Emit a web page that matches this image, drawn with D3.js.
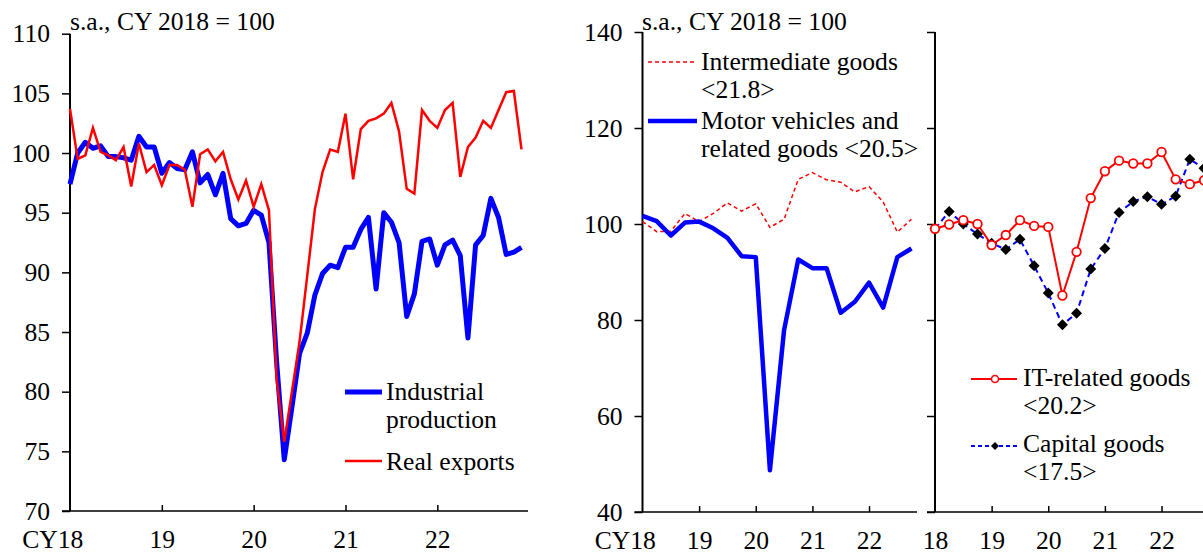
<!DOCTYPE html>
<html>
<head>
<meta charset="utf-8">
<script src="https://cdn.jsdelivr.net/npm/d3@7"></script>
<style>
  body { margin: 0; overflow: hidden; background: #fff; }
  svg { display: block; }
  svg text { font-family: "Liberation Serif", "Times New Roman", serif; }
</style>
</head>
<body>
<div id="chart"></div>
<script>
// monthly, Jan 2018 - Dec 2022
const industrialProduction = [
  97.4, 100.0, 100.9, 100.4, 100.6, 99.7, 99.7, 99.6, 99.4, 101.4, 100.5, 100.5,
  98.3, 99.2, 98.7, 98.6, 100.1, 97.5, 98.2, 96.5, 98.3, 94.5, 93.9, 94.1,
  95.2, 94.8, 92.5, 82.5, 74.3, 78.7, 83.2, 84.9, 88.1, 89.9, 90.6, 90.4,
  92.1, 92.1, 93.6, 94.6, 88.6, 95.0, 94.2, 92.5, 86.3, 88.2, 92.6, 92.8,
  90.6, 92.3, 92.7, 91.4, 84.5, 92.3, 93.1, 96.2, 94.6, 91.5, 91.7, 92.1
]
const realExports = [
  103.7, 99.5, 99.8, 102.1, 100.1, 99.8, 99.4, 100.5, 97.2, 100.8, 98.4, 99.0,
  97.3, 99.0, 99.0, 98.6, 95.5, 99.9, 100.3, 99.3, 100.1, 97.8, 96.1, 97.7,
  95.5, 97.4, 95.2, 81.0, 75.8, 80.0, 84.2, 89.7, 95.3, 98.4, 100.3, 100.1,
  103.3, 97.8, 102.0, 102.7, 102.9, 103.3, 104.2, 101.8, 97.0, 96.6, 103.6, 102.7,
  102.1, 103.6, 104.2, 98.0, 100.5, 101.3, 102.7, 102.1, 103.6, 105.1, 105.2, 100.3
]

// quarterly, 2018Q1 - 2022Q4
const intermediateGoods = [100.5, 98.4, 98.5, 102.2, 100.5, 102.2, 104.4, 102.7, 104.2, 99.3,
  101.0, 109.3, 110.7, 109.2, 108.7, 106.7, 107.8, 104.6, 98.3, 101.0]
const motorVehicles = [101.7, 100.6, 97.6, 100.3, 100.5, 99.1, 97.1, 93.3, 93.1, 48.7,
  77.9, 92.6, 90.8, 90.8, 81.5, 83.8, 87.8, 82.6, 93.1, 94.9]
const itRelated = [99.0, 99.9, 100.8, 100.0, 95.6, 97.7, 100.8, 99.6, 99.4, 85.1,
  94.2, 105.4, 111.0, 113.2, 112.6, 112.6, 115.0, 109.3, 108.3, 109.1]
const capitalGoods = [99.0, 102.6, 100.0, 97.9, 96.0, 94.7, 96.8, 91.3, 85.6, 79.0,
  81.4, 90.6, 94.9, 102.4, 104.7, 105.7, 104.1, 105.8, 113.5, 111.6]

const yearLabelsLeft = ["CY18", "19", "20", "21", "22"]
const yearLabelsRight = ["18", "19", "20", "21", "22"]
const leftTicks = [70, 75, 80, 85, 90, 95, 100, 105, 110]
const midTicks = [40, 60, 80, 100, 120, 140]
const subtitle = "s.a., CY 2018 = 100"

const width = 1203
const height = 554
const fontSize = 25.6
const serif = '"Liberation Serif", "Times New Roman", serif'

const svg = d3.select("#chart")
    .append("svg")
    .attr("width", width)
    .attr("height", height)

// scales
const xLeft = d3.scaleLinear().domain([0, industrialProduction.length - 1]).range([70, 521.5])
const yLeft = d3.scaleLinear().domain([70, 110]).range([511, 33.7])
const xMid = d3.scaleLinear().domain([0, motorVehicles.length - 1]).range([642.5, 911.5])
const xRight = d3.scaleLinear().domain([0, itRelated.length - 1]).range([935, 1204])
const yMid = d3.scaleLinear().domain([40, 140]).range([512, 32])

// y axis + x axis of one panel
function drawAxes(xs, ys, yTicks, showYLabels, xLabels, perYear, xEnd, cyLabel) {
    const x0 = xs.range()[0]
    const yAxis = d3.axisLeft(ys).tickValues(yTicks).tickSize(8).tickSizeOuter(0).tickPadding(12)
    const gy = svg.append("g").attr("transform", `translate(${x0},0)`).call(yAxis)
    gy.select(".domain").remove()
    gy.selectAll(".tick line").attr("stroke", "#000").attr("stroke-width", 1.5)
    gy.selectAll("text").attr("fill", "#000")
        .style("font-family", serif).style("font-size", fontSize + "px")
    if (!showYLabels) gy.selectAll("text").remove()

    svg.append("line").attr("x1", x0).attr("x2", x0)
        .attr("y1", ys.range()[1]).attr("y2", ys.range()[0])
        .attr("stroke", "#000").attr("stroke-width", 2)
    svg.append("line").attr("x1", x0 - 8).attr("x2", xEnd)
        .attr("y1", ys.range()[0]).attr("y2", ys.range()[0])
        .attr("stroke", "#000").attr("stroke-width", 1.5)

    const tickIdx = xLabels.map((d, i) => i * perYear)
    const xAxis = d3.axisBottom(xs).tickValues(tickIdx).tickSize(-6).tickPadding(19)
        .tickFormat((d, i) => xLabels[i])
    const gx = svg.append("g").attr("transform", `translate(0,${ys.range()[0]})`).call(xAxis)
    gx.select(".domain").remove()
    gx.selectAll(".tick line").attr("stroke", "#000").attr("stroke-width", 1.5)
    gx.selectAll(".tick").filter((d, i) => i === 0).select("line").remove()
    gx.selectAll("text").attr("fill", "#000")
        .style("font-family", serif).style("font-size", fontSize + "px")
    // "CY18": keep the "18" centred on the tick
    if (cyLabel) gx.selectAll("text").filter(d => d === 0)
        .attr("text-anchor", "end").attr("x", 12.8)
}

drawAxes(xLeft, yLeft, leftTicks, true, yearLabelsLeft, 12, 528, true)
drawAxes(xMid, yMid, midTicks, true, yearLabelsLeft, 4, 917, true)
drawAxes(xRight, yMid, midTicks, false, yearLabelsRight, 4, 1210, false)

function addText(x, y, s) {
    return svg.append("text").attr("x", x).attr("y", y)
        .style("font-family", serif).style("font-size", fontSize + "px").text(s)
}

// subtitles
addText(70, 30, subtitle)
addText(642, 30, subtitle)

const lineL = d3.line().x((d, i) => xLeft(i)).y(d => yLeft(d))
const lineM = d3.line().x((d, i) => xMid(i)).y(d => yMid(d))
const lineR = d3.line().x((d, i) => xRight(i)).y(d => yMid(d))

// left panel
svg.append("path").datum(industrialProduction).attr("d", lineL)
    .attr("fill", "none").attr("stroke", "#0000ff").attr("stroke-width", 5).attr("stroke-linejoin", "round")
svg.append("path").datum(realExports).attr("d", lineL)
    .attr("fill", "none").attr("stroke", "#ff0000").attr("stroke-width", 2.5)

// middle panel
svg.append("path").datum(intermediateGoods).attr("d", lineM)
    .attr("fill", "none").attr("stroke", "#ff0000").attr("stroke-width", 1.5).attr("stroke-dasharray", "4,3")
svg.append("path").datum(motorVehicles).attr("d", lineM)
    .attr("fill", "none").attr("stroke", "#0000ff").attr("stroke-width", 4.5).attr("stroke-linejoin", "round")

// right panel
const right = svg.append("g")
right.append("path").datum(capitalGoods).attr("d", lineR)
    .attr("fill", "none").attr("stroke", "#0000ff").attr("stroke-width", 2).attr("stroke-dasharray", "6,4")
right.append("path").datum(itRelated).attr("d", lineR)
    .attr("fill", "none").attr("stroke", "#ff0000").attr("stroke-width", 2)

const diamond = s => `M0,${-s}L${s},0L0,${s}L${-s},0Z`
right.selectAll(".cap").data(capitalGoods).enter().append("path")
    .attr("class", "cap")
    .attr("d", diamond(5.5))
    .attr("transform", (d, i) => `translate(${xRight(i)},${yMid(d)})`)
    .attr("fill", "#000")
right.selectAll(".it").data(itRelated).enter().append("circle")
    .attr("class", "it")
    .attr("cx", (d, i) => xRight(i))
    .attr("cy", d => yMid(d))
    .attr("r", 4.3)
    .attr("fill", "#fff").attr("stroke", "#ff0000").attr("stroke-width", 1.8)

// legends
function legendText(x, y, lines) {
    const t = addText(x, y, null)
    lines.forEach((s, i) => t.append("tspan").attr("x", x).attr("dy", i === 0 ? 0 : 28).text(s))
}

svg.append("line").attr("x1", 345).attr("x2", 382).attr("y1", 392).attr("y2", 392)
    .attr("stroke", "#0000ff").attr("stroke-width", 5)
legendText(386, 400, ["Industrial", "production"])
svg.append("line").attr("x1", 345).attr("x2", 382).attr("y1", 461).attr("y2", 461)
    .attr("stroke", "#ff0000").attr("stroke-width", 2.5)
legendText(386, 470, ["Real exports"])

svg.append("line").attr("x1", 648).attr("x2", 697).attr("y1", 62).attr("y2", 62)
    .attr("stroke", "#ff0000").attr("stroke-width", 1.5).attr("stroke-dasharray", "4,3")
legendText(701, 70, ["Intermediate goods", "<21.8>"])
svg.append("line").attr("x1", 648).attr("x2", 697).attr("y1", 121).attr("y2", 121)
    .attr("stroke", "#0000ff").attr("stroke-width", 4.5)
legendText(701, 129, ["Motor vehicles and", "related goods <20.5>"])

svg.append("line").attr("x1", 971).attr("x2", 1017).attr("y1", 379).attr("y2", 379)
    .attr("stroke", "#ff0000").attr("stroke-width", 2)
svg.append("circle").attr("cx", 995).attr("cy", 379).attr("r", 3.5)
    .attr("fill", "#fff").attr("stroke", "#ff0000").attr("stroke-width", 1.5)
legendText(1023, 386, ["IT-related goods", "<20.2>"])
svg.append("line").attr("x1", 971).attr("x2", 1017).attr("y1", 446).attr("y2", 446)
    .attr("stroke", "#0000ff").attr("stroke-width", 2).attr("stroke-dasharray", "4,3")
svg.append("path").attr("d", diamond(4)).attr("transform", "translate(995,446)").attr("fill", "#000")
legendText(1023, 452, ["Capital goods", "<17.5>"])
</script>
</body>
</html>
